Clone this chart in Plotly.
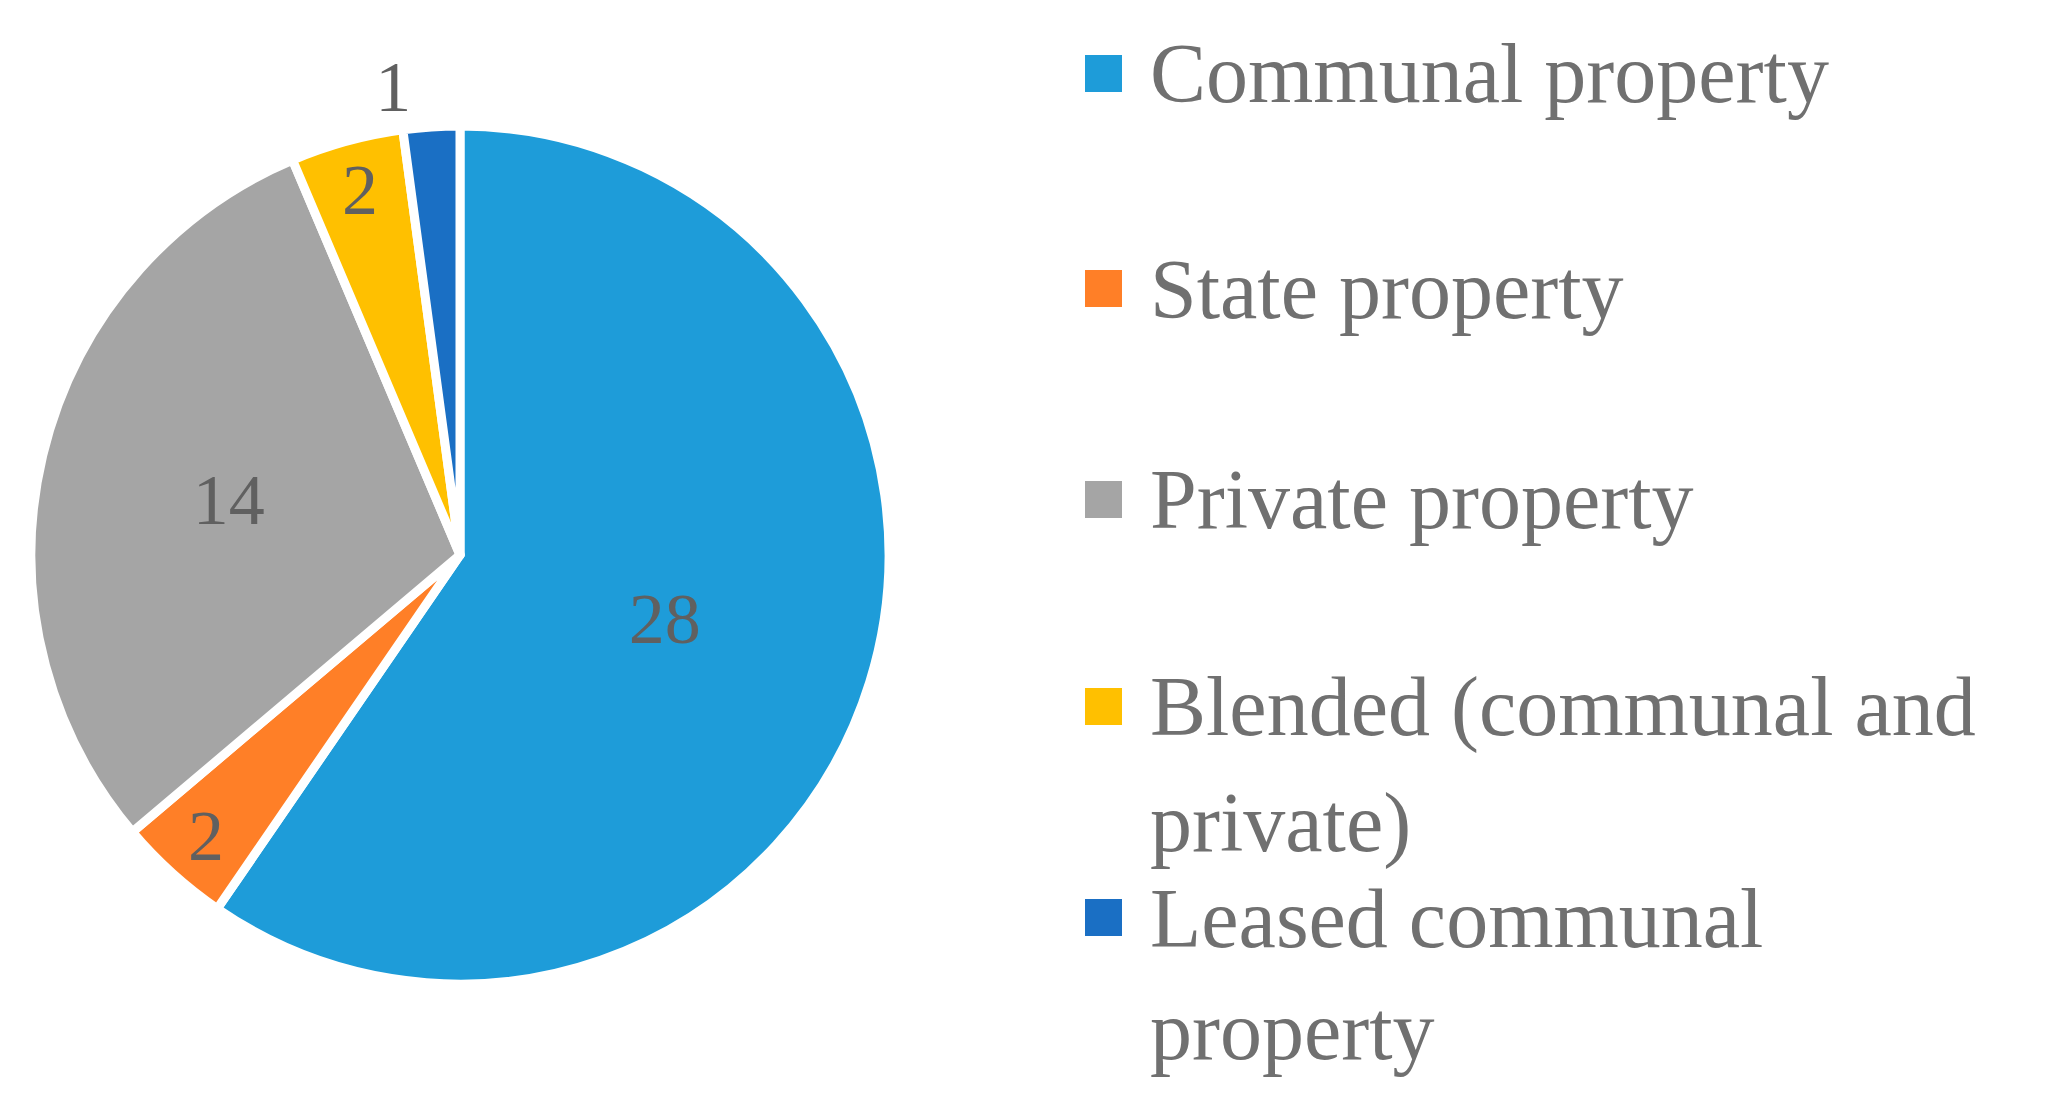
import plotly.graph_objects as go

labels = ["Communal property", "State property", "Private property",
          "Blended (communal and private)", "Leased communal property"]
values = [28, 2, 14, 2, 1]
colors = ["#1E9CD9", "#FF7F27", "#A5A5A5", "#FFC000", "#1A6FC4"]
legend_lines = [["Communal property"], ["State property"], ["Private property"],
                ["Blended (communal and", "private)"], ["Leased communal", "property"]]

W, H = 2057, 1094
FONT = "Liberation Serif"
fig = go.Figure(go.Pie(
    labels=labels, values=values, sort=False, direction="clockwise", rotation=0,
    marker=dict(colors=colors, line=dict(color="white", width=9)),
    textinfo="value", textposition=["inside", "inside", "inside", "inside", "outside"],
    insidetextorientation="horizontal",
    textfont=dict(family=FONT, size=72, color="#606060"),
    domain=dict(x=[23/W, 881/W], y=[1-976/H, 1-118/H]),
    showlegend=False, hoverinfo="label+value"))

ys = [[66], [281], [492], [699, 815], [910, 1022]]
for i, lines in enumerate(legend_lines):
    y0 = ys[i][0]
    fig.add_shape(type="rect", xref="paper", yref="paper",
                  x0=1077/W, x1=1114/W, y0=1-(y0+18)/H, y1=1-(y0-19)/H,
                  fillcolor=colors[i], line=dict(width=0))
    for t, y in zip(lines, ys[i]):
        fig.add_annotation(text=t, xref="paper", yref="paper", x=1140/W, y=1-y/H,
                           xanchor="left", yanchor="middle", showarrow=False,
                           font=dict(family=FONT, size=84, color="#707070"))

fig.update_layout(width=W, height=H, margin=dict(l=0, r=0, t=0, b=0),
                  paper_bgcolor="white", plot_bgcolor="white")
fig.write_html("out.html")
